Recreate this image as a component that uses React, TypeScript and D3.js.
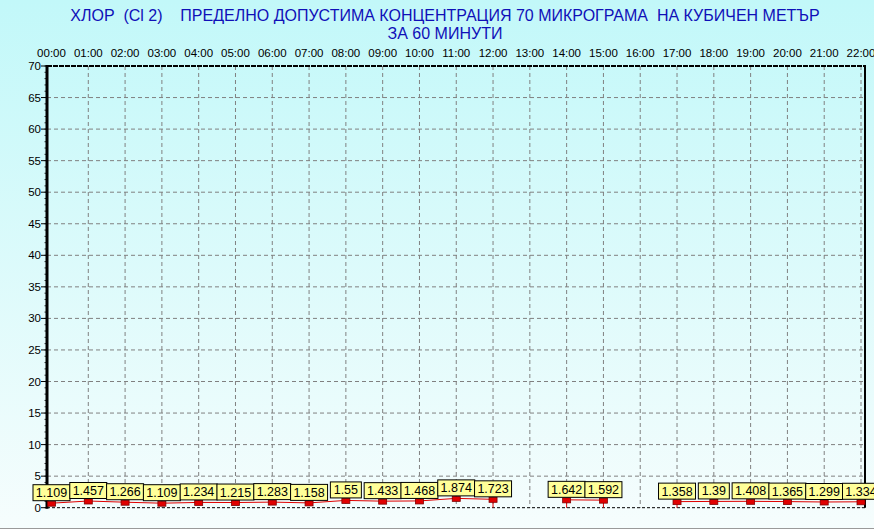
import React from "react";
import * as d3 from "d3";

const hours = ["00:00","01:00","02:00","03:00","04:00","05:00","06:00","07:00","08:00","09:00","10:00","11:00","12:00","13:00","14:00","15:00","16:00","17:00","18:00","19:00","20:00","21:00","22:00"];
const values: (number | null)[] = [1.109,1.457,1.266,1.109,1.234,1.215,1.283,1.158,1.55,1.433,1.468,1.874,1.723,null,1.642,1.592,null,1.358,1.39,1.408,1.365,1.299,1.334];
const yTicks = [0,5,10,15,20,25,30,35,40,45,50,55,60,65,70];
const titleLine1 = "ХЛОР  (Cl 2)    ПРЕДЕЛНО ДОПУСТИМА КОНЦЕНТРАЦИЯ 70 МИКРОГРАМА  НА КУБИЧЕН МЕТЪР";
const titleLine2 = "ЗА 60 МИНУТИ";

const W = 874, H = 529;
const left = 47, right = 865, top = 66, bottom = 507.7;
const font = "Arial, 'Liberation Sans', sans-serif";

export default function App() {
  const x = d3.scaleLinear().domain([0, 22]).range([51.5, 861]);
  const y = d3.scaleLinear().domain([0, 70]).range([bottom, top]);
  const off = 2.5;
  const minor = d3.range(0, 71, 1);

  const pts = values.map((v, i) => ({ i, v }));
  const line = d3
    .line<{ i: number; v: number | null }>()
    .defined((d) => d.v !== null)
    .x((d) => x(d.i))
    .y((d) => y(d.v as number) + off);

  const drops = pts.filter(
    (d) => d.v !== null && ((d.i > 0 && values[d.i - 1] === null) || (d.i < values.length - 1 && values[d.i + 1] === null))
  );

  const fmt = (v: number) => String(v);

  return (
    <>
      <style>{"body{margin:0}"}</style>
      <svg width={W} height={H} style={{ display: "block" }}>
        <defs>
          <linearGradient id="bg" x1="0" y1="0" x2="0" y2="1">
            <stop offset="0" stopColor="#c2f8f9" />
            <stop offset="1" stopColor="#f6fdfd" />
          </linearGradient>
        </defs>
        <rect x={0} y={0} width={W} height={H} fill="url(#bg)" />
        <line x1={0} x2={W} y1={528.5} y2={528.5} stroke="#9a9a9a" />

        <text x={445} y={21} textAnchor="middle" fontFamily={font} fontSize={16} fill="#1010b8" style={{ whiteSpace: "pre" }}>
          {titleLine1}
        </text>
        <text x={445} y={38.5} textAnchor="middle" fontFamily={font} fontSize={16} fill="#1010b8">
          {titleLine2}
        </text>

        {/* horizontal grid */}
        {yTicks.filter((t) => t > 0 && t < 70).map((t) => (
          <line key={"h" + t} x1={left} x2={right} y1={y(t)} y2={y(t)} stroke="#808080" strokeDasharray="4,3" />
        ))}
        {/* vertical grid */}
        {hours.map((h, i) =>
          i > 0 ? (
            <line key={"v" + i} x1={x(i)} x2={x(i)} y1={top} y2={bottom} stroke="#808080" strokeDasharray="4,3" />
          ) : null
        )}

        {/* borders */}
        <line x1={left} x2={right} y1={top} y2={top} stroke="#000" strokeWidth={2} strokeDasharray="5,1" />
        <line x1={left} x2={right} y1={bottom} y2={bottom} stroke="#000" strokeDasharray="3,2" />
        <line x1={right} x2={right} y1={top - 1} y2={bottom} stroke="#000" strokeWidth={2} />
        <line x1={left} x2={left} y1={top - 1} y2={bottom + 1} stroke="#000" strokeWidth={3} />

        {/* y ticks */}
        {minor.map((t) => (
          <line key={"m" + t} x1={left - 2.5} x2={left} y1={y(t)} y2={y(t)} stroke="#000" strokeWidth={0.8} />
        ))}
        {yTicks.map((t) => (
          <g key={"t" + t}>
            <line x1={left - 6} x2={left} y1={y(t)} y2={y(t)} stroke="#000" />
            <text x={41} y={y(t) + 4} textAnchor="end" fontFamily={font} fontSize={11.5} fill="#000">
              {t}
            </text>
          </g>
        ))}

        {/* x labels */}
        {hours.map((h, i) => (
          <text key={"x" + i} x={x(i)} y={56.5} textAnchor="middle" fontFamily={font} fontSize={11.5} fill="#000">
            {h}
          </text>
        ))}

        {/* series */}
        <path d={line(pts) || ""} fill="none" stroke="#e00000" strokeWidth={1} />
        {drops.map((d) => (
          <line key={"d" + d.i} x1={x(d.i)} x2={x(d.i)} y1={y(d.v as number) + off} y2={bottom} stroke="#e00000" />
        ))}
        {pts.map((d) =>
          d.v === null ? null : (
            <rect key={"p" + d.i} x={x(d.i) - 4} y={y(d.v) + 0.5} width={8} height={5} fill="#e00000" stroke="#800000" strokeWidth={0.8} />
          )
        )}
        {pts.map((d) => {
          if (d.v === null) return null;
          const txt = fmt(d.v);
          const tw = txt.length === 4 ? 23 : 29;
          const bw = tw + 8;
          const bh = 16;
          const cx = x(d.i);
          const by = y(d.v);
          return (
            <g key={"l" + d.i}>
              <rect x={cx - bw / 2} y={by - bh} width={bw} height={bh} fill="#ffff99" stroke="#000" strokeWidth={1} />
              <text x={cx} y={by - 3.5} textAnchor="middle" fontFamily={font} fontSize={12.5} fill="#000">
                {txt}
              </text>
            </g>
          );
        })}
      </svg>
    </>
  );
}
